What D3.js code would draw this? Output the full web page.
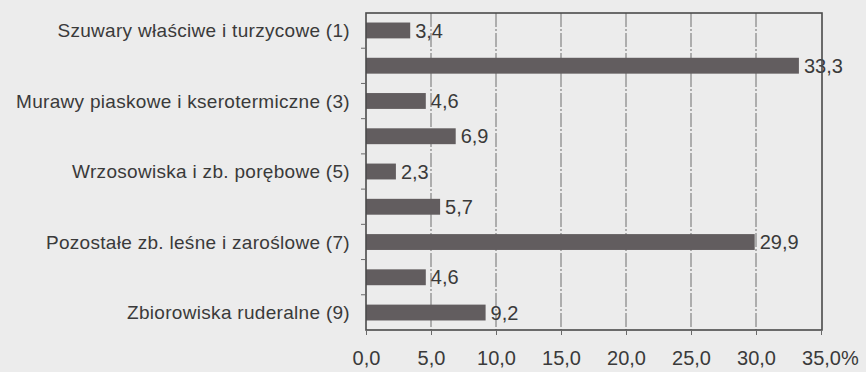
<!DOCTYPE html>
<html lang="pl">
<head>
<meta charset="UTF-8">
<title>Zbiorowiska</title>
<script src="https://cdn.jsdelivr.net/npm/d3@7"></script>
<style>
    body{ margin:0; background:#ececec; }
    text{ font-family:"Liberation Sans", Arial, sans-serif; fill:#3a3a3a; }
    .cat{ font-size:19px; letter-spacing:0.3px; }
    .val{ font-size:20px; }
    .tick text{ font-size:20px; }
    .grid{ stroke:#6e6e6e; stroke-width:1px; stroke-dasharray:14,2,2,2; }
    .frame{ fill:none; stroke:#4a4a4a; stroke-width:1.6px; }
    .bar{ fill:#625d5f; }
</style>
</head>
<body>
<svg id="svg"></svg>
<script>
    var WIDTH = 866, HEIGHT = 372;
    var LEFT = 366, RIGHT = 821, TOP = 13, BOTTOM = 330;

    // data
    var labels = [
        "Szuwary właściwe i turzycowe (1)", "",
        "Murawy piaskowe i kserotermiczne (3)", "",
        "Wrzosowiska i zb. porębowe (5)", "",
        "Pozostałe zb. leśne i zaroślowe (7)", "",
        "Zbiorowiska ruderalne (9)"
    ];
    var values = [3.4, 33.3, 4.6, 6.9, 2.3, 5.7, 29.9, 4.6, 9.2];
    var xTicks = [0, 5, 10, 15, 20, 25, 30, 35];

    var svg = d3.select("#svg")
                .attr("width", WIDTH)
                .attr("height", HEIGHT);

    var xScale = d3.scaleLinear()
                   .domain([0, 35])
                   .range([LEFT, RIGHT]);

    var yScale = d3.scaleBand()
                   .domain(d3.range(values.length))
                   .range([TOP, BOTTOM])
                   .paddingInner(0.55)
                   .paddingOuter(0.27);

    var band = d3.scaleBand()
                 .domain(d3.range(values.length))
                 .range([TOP, BOTTOM]);

    var fmt = function(v){ return d3.format(".1f")(v).replace(".", ","); };

    // gridlines
    svg.append("g")
       .selectAll("line")
       .data(xTicks.slice(1, -1))
       .enter()
       .append("line")
       .attr("class", "grid")
       .attr("x1", function(d){ return xScale(d); })
       .attr("x2", function(d){ return xScale(d); })
       .attr("y1", TOP)
       .attr("y2", BOTTOM);

    // bars
    svg.append("g")
       .selectAll("rect")
       .data(values)
       .enter()
       .append("rect")
       .attr("class", "bar")
       .attr("x", xScale(0))
       .attr("y", function(d, i){ return yScale(i); })
       .attr("width", function(d){ return xScale(d) - xScale(0); })
       .attr("height", yScale.bandwidth());

    // value labels
    svg.append("g")
       .selectAll("text")
       .data(values)
       .enter()
       .append("text")
       .attr("class", "val")
       .attr("x", function(d){ return xScale(d) + 5; })
       .attr("y", function(d, i){ return yScale(i) + yScale.bandwidth() / 2; })
       .attr("dy", "0.36em")
       .text(fmt);

    // frame
    svg.append("rect")
       .attr("class", "frame")
       .attr("x", LEFT)
       .attr("y", TOP)
       .attr("width", RIGHT - LEFT + 1)
       .attr("height", BOTTOM - TOP);

    // x axis
    var xAxis = d3.axisBottom(xScale)
                  .tickValues(xTicks)
                  .tickSize(5)
                  .tickPadding(16)
                  .tickFormat(fmt);

    var gx = svg.append("g")
                .attr("transform", "translate(0," + BOTTOM + ")")
                .call(xAxis);
    gx.select(".domain").remove();
    gx.selectAll("line").attr("stroke", "#6a6a6a");
    gx.selectAll("text").attr("fill", "#3a3a3a");

    svg.append("text")
       .attr("x", xScale(35) + 20)
       .attr("y", BOTTOM + 21)
       .attr("dy", "0.71em")
       .style("font-size", "20px")
       .text("%");

    // y ticks at band boundaries
    svg.append("g")
       .selectAll("line")
       .data(d3.range(1, values.length))
       .enter()
       .append("line")
       .attr("x1", LEFT - 5)
       .attr("x2", LEFT)
       .attr("y1", function(i){ return band(i); })
       .attr("y2", function(i){ return band(i); })
       .attr("stroke", "#6a6a6a");

    // category labels
    svg.append("g")
       .selectAll("text")
       .data(labels)
       .enter()
       .append("text")
       .attr("class", "cat")
       .attr("text-anchor", "end")
       .attr("x", LEFT - 16)
       .attr("y", function(d, i){ return yScale(i) + yScale.bandwidth() / 2; })
       .attr("dy", "0.36em")
       .text(function(d){ return d; });
</script>
</body>
</html>
